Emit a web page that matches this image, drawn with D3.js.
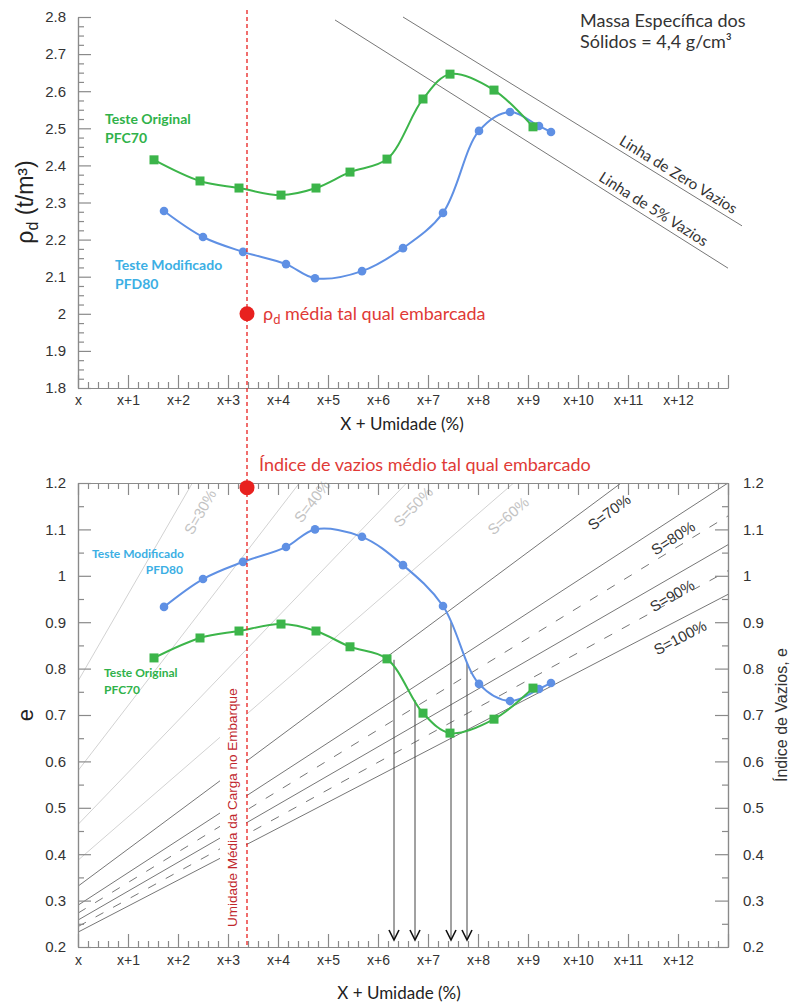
<!DOCTYPE html>
<html>
<head>
<meta charset="utf-8">
<script src="https://cdn.jsdelivr.net/npm/d3@7"></script>
<style>
  body { margin: 0; background: #fff; }
  text { font-family: "Liberation Sans", Arial, sans-serif; }
  .cal { font-family: Lato, "Open Sans", sans-serif; }
</style>
</head>
<body>
<svg id="chart" width="792" height="1003"></svg>
<script>
// ---- data ----
const xTickLabels = ["x", "x+1", "x+2", "x+3", "x+4", "x+5", "x+6", "x+7", "x+8", "x+9", "x+10", "x+11", "x+12"];

// moisture offsets (units above x) for each compaction test point
const moistOrig = [1.52, 2.44, 3.22, 4.06, 4.76, 5.44, 6.18, 6.90, 7.44, 8.32, 9.10];
const moistMod  = [1.72, 2.50, 3.30, 4.16, 4.74, 5.68, 6.50, 7.30, 8.02, 8.64, 9.22, 9.46];

// dry density (t/m3)
const rhoOrig = [2.415, 2.358, 2.339, 2.320, 2.339, 2.382, 2.417, 2.579, 2.646, 2.603, 2.504];
const rhoMod  = [2.277, 2.207, 2.167, 2.134, 2.096, 2.115, 2.177, 2.272, 2.493, 2.544, 2.506, 2.490];

// void ratio e
const voidOrig = [0.823, 0.866, 0.881, 0.896, 0.881, 0.847, 0.821, 0.704, 0.661, 0.691, 0.758];
const voidMod  = [0.933, 0.993, 1.030, 1.062, 1.100, 1.084, 1.023, 0.935, 0.767, 0.730, 0.756, 0.769];

// zero-air-voids and 5%-voids lines (end points)
const rhoLineNames = ["Linha de Zero Vazios", "Linha de 5% Vazios"];
const rhoLineX0 = [6.50, 5.14];
const rhoLineR0 = [2.800, 2.792];
const rhoLineX1 = [13.28, 13.00];
const rhoLineR1 = [2.237, 2.123];
const rhoLineLabelAt = [11.9, 11.4];

// saturation lines: e at x and at x+13
const satLevels = [30, 40, 50, 60, 70, 80, 85, 90, 95, 100];
const satE0  = [0.773, 0.580, 0.464, 0.387, 0.331, 0.290, 0.273, 0.258, 0.244, 0.232];
const satE13 = [3.200, 2.400, 1.920, 1.600, 1.371, 1.200, 1.129, 1.067, 1.011, 0.960];
const satLabelAt = [2.44, 4.68, 6.70, 8.60, 10.62, 11.90, null, 11.88, null, 12.04];

// as-shipped average values
const embarkMoist = 3.38;
const embarkRho = 2.0;
const embarkVoid = 1.19;

// read-off arrows down to the moisture axis
const arrowMoist = [6.32, 6.74, 7.46, 7.78];
const arrowFromVoid = [0.819, 0.732, 0.900, 0.812];

// ---- drawing ----
const svg = d3.select("#chart");

const GREEN = "#3cb54a", BLUE = "#5f90e4", RED = "#e8211f", AXIS = "#8a8a8a";

const xT = d3.scaleLinear().domain([0, 13]).range([78, 728]);
const yT = d3.scaleLinear().domain([1.8, 2.8]).range([388, 17]);
const xB = d3.scaleLinear().domain([0, 13]).range([78, 728]);
const yB = d3.scaleLinear().domain([0.2, 1.2]).range([947, 483]);

const isMajor = v => Math.abs(v - Math.round(v)) < 1e-6;
const majorX = d3.range(0, 14);
const minorX = d3.range(0, 66).map(i => +(i * 0.2).toFixed(2)).filter(v => v <= 13 && !isMajor(v));
const majorYT = d3.range(0, 11).map(i => +(1.8 + i * 0.1).toFixed(2));
const minorYT = d3.range(0, 41).map(i => +(1.8 + i * 0.025).toFixed(3)).filter(v => !majorYT.some(m => Math.abs(m - v) < 1e-6));
const majorYB = d3.range(0, 11).map(i => +(0.2 + i * 0.1).toFixed(2));
const minorYB = d3.range(0, 10).map(i => +(0.25 + i * 0.1).toFixed(2));

const fmtY = d => String(+d.toFixed(2));
const fmtX = d => xTickLabels[Math.round(d)] || "";

function styleAxis(g, size) {
  g.selectAll("path.domain").attr("stroke", AXIS).attr("stroke-width", 1.2);
  g.selectAll(".tick line").attr("stroke", AXIS).attr("stroke-width", 1.2);
  g.selectAll(".tick text").attr("fill", "#333").attr("font-size", size)
    .attr("font-family", "Liberation Sans, Arial, sans-serif");
}

function addAxis(axis, transform, size) {
  const g = svg.append("g").attr("transform", transform).call(axis);
  styleAxis(g, size);
  return g;
}

// ---------- top panel ----------
addAxis(d3.axisBottom(xT).tickValues(minorX).tickSizeInner(-6).tickSizeOuter(0).tickFormat(""), `translate(0,${yT(1.8)})`, 14);
addAxis(d3.axisLeft(yT).tickValues(minorYT).tickSizeInner(-6).tickSizeOuter(0).tickFormat(""), `translate(${xT(0)},0)`, 15);
addAxis(d3.axisBottom(xT).tickValues(majorX).tickSizeInner(-13).tickSizeOuter(0).tickPadding(7).tickFormat(fmtX), `translate(0,${yT(1.8)})`, 14);
addAxis(d3.axisLeft(yT).tickValues(majorYT).tickSizeInner(-13).tickSizeOuter(0).tickPadding(12).tickFormat(fmtY), `translate(${xT(0)},0)`, 15);

// void lines
rhoLineNames.forEach((name, i) => {
  const p0 = [xT(rhoLineX0[i]), yT(rhoLineR0[i])];
  const p1 = [xT(rhoLineX1[i]), yT(rhoLineR1[i])];
  svg.append("line").attr("x1", p0[0]).attr("y1", p0[1]).attr("x2", p1[0]).attr("y2", p1[1])
    .attr("stroke", "#777").attr("stroke-width", 1);
  const ang = Math.atan2(p1[1] - p0[1], p1[0] - p0[0]) * 180 / Math.PI;
  const t = (rhoLineLabelAt[i] - rhoLineX0[i]) / (rhoLineX1[i] - rhoLineX0[i]);
  const lx = p0[0] + t * (p1[0] - p0[0]), ly = p0[1] + t * (p1[1] - p0[1]);
  svg.append("text").attr("class", "cal")
    .attr("transform", `translate(${lx},${ly}) rotate(${ang})`)
    .attr("y", -5).attr("text-anchor", "middle")
    .attr("font-size", 15).attr("fill", "#333").text(name);
});

const smooth = d3.line().curve(d3.curveCatmullRom.alpha(0.5));

function drawSeries(xs, ys, xs_, ys_, color, marker) {
  const pts = xs.map((v, i) => [xs_(v), ys_(ys[i])]);
  svg.append("path").attr("d", smooth(pts)).attr("fill", "none")
    .attr("stroke", color).attr("stroke-width", 2);
  if (marker === "square") {
    svg.append("g").selectAll("rect").data(pts).join("rect")
      .attr("x", d => d[0] - 4.5).attr("y", d => d[1] - 4.5)
      .attr("width", 9).attr("height", 9).attr("fill", color);
  } else {
    svg.append("g").selectAll("circle").data(pts).join("circle")
      .attr("cx", d => d[0]).attr("cy", d => d[1]).attr("r", 4.3).attr("fill", color);
  }
}

drawSeries(moistMod, rhoMod, xT, yT, BLUE, "circle");
drawSeries(moistOrig, rhoOrig, xT, yT, GREEN, "square");

// labels top panel
svg.append("text").attr("class", "cal").attr("x", 580).attr("y", 27).attr("font-size", 18).attr("fill", "#333").text("Massa Específica dos");
svg.append("text").attr("class", "cal").attr("x", 580).attr("y", 48).attr("font-size", 18).attr("fill", "#333").text("Sólidos = 4,4 g/cm³");

svg.append("text").attr("class", "cal").attr("x", 105).attr("y", 124).attr("font-size", 14).attr("font-weight", "bold").attr("fill", "#30b24a").text("Teste Original");
svg.append("text").attr("class", "cal").attr("x", 105).attr("y", 143).attr("font-size", 14).attr("font-weight", "bold").attr("fill", "#30b24a").text("PFC70");
svg.append("text").attr("class", "cal").attr("x", 115).attr("y", 270).attr("font-size", 14).attr("font-weight", "bold").attr("fill", "#3cafe4").text("Teste Modificado");
svg.append("text").attr("class", "cal").attr("x", 115).attr("y", 289).attr("font-size", 14).attr("font-weight", "bold").attr("fill", "#3cafe4").text("PFD80");

svg.append("text").attr("transform", "translate(33,202) rotate(-90)").attr("text-anchor", "middle")
  .attr("font-size", 23).attr("fill", "#222")
  .call(t => {
    t.append("tspan").text("ρ");
    t.append("tspan").attr("font-size", 16).attr("dy", 5).text("d");
    t.append("tspan").attr("dy", -5).text(" (t/m³)");
  });
svg.append("text").attr("class", "cal").attr("x", 402).attr("y", 430).attr("text-anchor", "middle")
  .attr("font-size", 17).attr("fill", "#222").text("X + Umidade (%)");

// ---------- bottom panel ----------
svg.append("clipPath").attr("id", "plotB").append("rect")
  .attr("x", xB(0)).attr("y", yB(1.2)).attr("width", xB(13) - xB(0)).attr("height", yB(0.2) - yB(1.2));

const satG = svg.append("g").attr("clip-path", "url(#plotB)");
const satLabG = svg.append("g");
satLevels.forEach((s, i) => {
  const p0 = [xB(0), yB(satE0[i])];
  const p1 = [xB(13), yB(satE13[i])];
  const light = s < 70;
  const dashed = s === 85 || s === 95;
  satG.append("line").attr("x1", p0[0]).attr("y1", p0[1]).attr("x2", p1[0]).attr("y2", p1[1])
    .attr("stroke", light ? "#d2d2d2" : "#777").attr("stroke-width", 1)
    .attr("stroke-dasharray", dashed ? "9,11" : null);
  if (satLabelAt[i] !== null) {
    const theta = Math.atan2(p1[1] - p0[1], p1[0] - p0[0]);
    const lx = xB(satLabelAt[i]);
    const ly = yB(satE0[i] + (satE13[i] - satE0[i]) * satLabelAt[i] / 13);
    const gap = (light ? 21 : 16) / Math.cos(theta);
    satLabG.append("text").attr("transform", `translate(${lx},${ly + gap}) rotate(${theta * 180 / Math.PI})`)
      .attr("dominant-baseline", "central").attr("text-anchor", "middle")
      .attr("font-size", 15).attr("fill", light ? "#c3c3c3" : "#333").text(`S=${s}%`);
  }
});

// white backing + vertical red caption
svg.append("rect").attr("x", 220).attr("y", 684).attr("width", 26).attr("height", 246).attr("fill", "#fff");
svg.append("text").attr("transform", "translate(237,927) rotate(-90)")
  .attr("font-size", 13.5).attr("fill", "#c1272d").text("Umidade Média da Carga no Embarque");

// axes bottom panel
addAxis(d3.axisBottom(xB).tickValues(minorX).tickSizeInner(-6).tickSizeOuter(0).tickFormat(""), `translate(0,${yB(0.2)})`, 14);
addAxis(d3.axisBottom(xB).tickValues(majorX).tickSizeInner(-13).tickSizeOuter(0).tickPadding(8).tickFormat(fmtX), `translate(0,${yB(0.2)})`, 14);
addAxis(d3.axisTop(xB).tickValues(minorX).tickSizeInner(-6).tickSizeOuter(0).tickFormat(""), `translate(0,${yB(1.2)})`, 14);
addAxis(d3.axisTop(xB).tickValues(majorX).tickSizeInner(-12).tickSizeOuter(0).tickFormat(""), `translate(0,${yB(1.2)})`, 14);
addAxis(d3.axisLeft(yB).tickValues(minorYB).tickSizeInner(-6).tickSizeOuter(0).tickFormat(""), `translate(${xB(0)},0)`, 15);
addAxis(d3.axisLeft(yB).tickValues(majorYB).tickSizeInner(-13).tickSizeOuter(0).tickPadding(12).tickFormat(fmtY), `translate(${xB(0)},0)`, 15);
addAxis(d3.axisRight(yB).tickValues(minorYB).tickSizeInner(-6).tickSizeOuter(0).tickFormat(""), `translate(${xB(13)},0)`, 15);
addAxis(d3.axisRight(yB).tickValues(majorYB).tickSizeInner(-13).tickSizeOuter(0).tickPadding(15).tickFormat(fmtY), `translate(${xB(13)},0)`, 15);

// read-off arrows
const tipY = yB(0.2) - 7;
arrowMoist.forEach((m, i) => {
  const x = xB(m);
  svg.append("line").attr("x1", x).attr("y1", yB(arrowFromVoid[i])).attr("x2", x).attr("y2", tipY)
    .attr("stroke", "#444").attr("stroke-width", 1);
  svg.append("path").attr("d", `M${x - 5},${tipY - 10}L${x},${tipY}L${x + 5},${tipY - 10}`)
    .attr("fill", "none").attr("stroke", "#111").attr("stroke-width", 1.6);
});

drawSeries(moistMod, voidMod, xB, yB, BLUE, "circle");
drawSeries(moistOrig, voidOrig, xB, yB, GREEN, "square");

svg.append("text").attr("class", "cal").attr("x", 92).attr("y", 558).attr("font-size", 12).attr("font-weight", "bold").attr("fill", "#3cafe4").text("Teste Modificado");
svg.append("text").attr("class", "cal").attr("x", 183).attr("y", 574).attr("text-anchor", "end").attr("font-size", 12).attr("font-weight", "bold").attr("fill", "#3cafe4").text("PFD80");
svg.append("text").attr("class", "cal").attr("x", 104).attr("y", 677).attr("font-size", 12).attr("font-weight", "bold").attr("fill", "#30b24a").text("Teste Original");
svg.append("text").attr("class", "cal").attr("x", 104).attr("y", 694).attr("font-size", 12).attr("font-weight", "bold").attr("fill", "#30b24a").text("PFC70");

svg.append("text").attr("transform", "translate(33,715) rotate(-90)").attr("text-anchor", "middle")
  .attr("font-size", 22).attr("fill", "#222").text("e");
svg.append("text").attr("transform", "translate(787,715) rotate(-90)").attr("text-anchor", "middle")
  .attr("font-size", 16).attr("fill", "#333").text("Índice de Vazios, e");
svg.append("text").attr("class", "cal").attr("x", 399).attr("y", 999).attr("text-anchor", "middle")
  .attr("font-size", 17).attr("fill", "#222").text("X + Umidade (%)");

// ---------- as-shipped marker (spans both panels) ----------
svg.append("line").attr("x1", xT(embarkMoist)).attr("x2", xT(embarkMoist))
  .attr("y1", 10).attr("y2", yB(0.2))
  .attr("stroke", RED).attr("stroke-width", 1.3).attr("stroke-dasharray", "4,3");

svg.append("circle").attr("cx", xT(embarkMoist)).attr("cy", yT(embarkRho)).attr("r", 7.5).attr("fill", RED);
svg.append("text").attr("class", "cal").attr("x", xT(embarkMoist) + 16).attr("y", yT(embarkRho) + 6)
  .attr("font-size", 18).attr("fill", "#e03a36")
  .call(t => {
    t.append("tspan").text("ρ");
    t.append("tspan").attr("font-size", 13).attr("dy", 4).text("d");
    t.append("tspan").attr("dy", -4).text(" média tal qual embarcada");
  });

svg.append("circle").attr("cx", xB(embarkMoist)).attr("cy", yB(embarkVoid)).attr("r", 7.5).attr("fill", RED);
svg.append("text").attr("class", "cal").attr("x", 259).attr("y", 471)
  .attr("font-size", 18).attr("fill", "#e03a36").text("Índice de vazios médio tal qual embarcado");
</script>
</body>
</html>
